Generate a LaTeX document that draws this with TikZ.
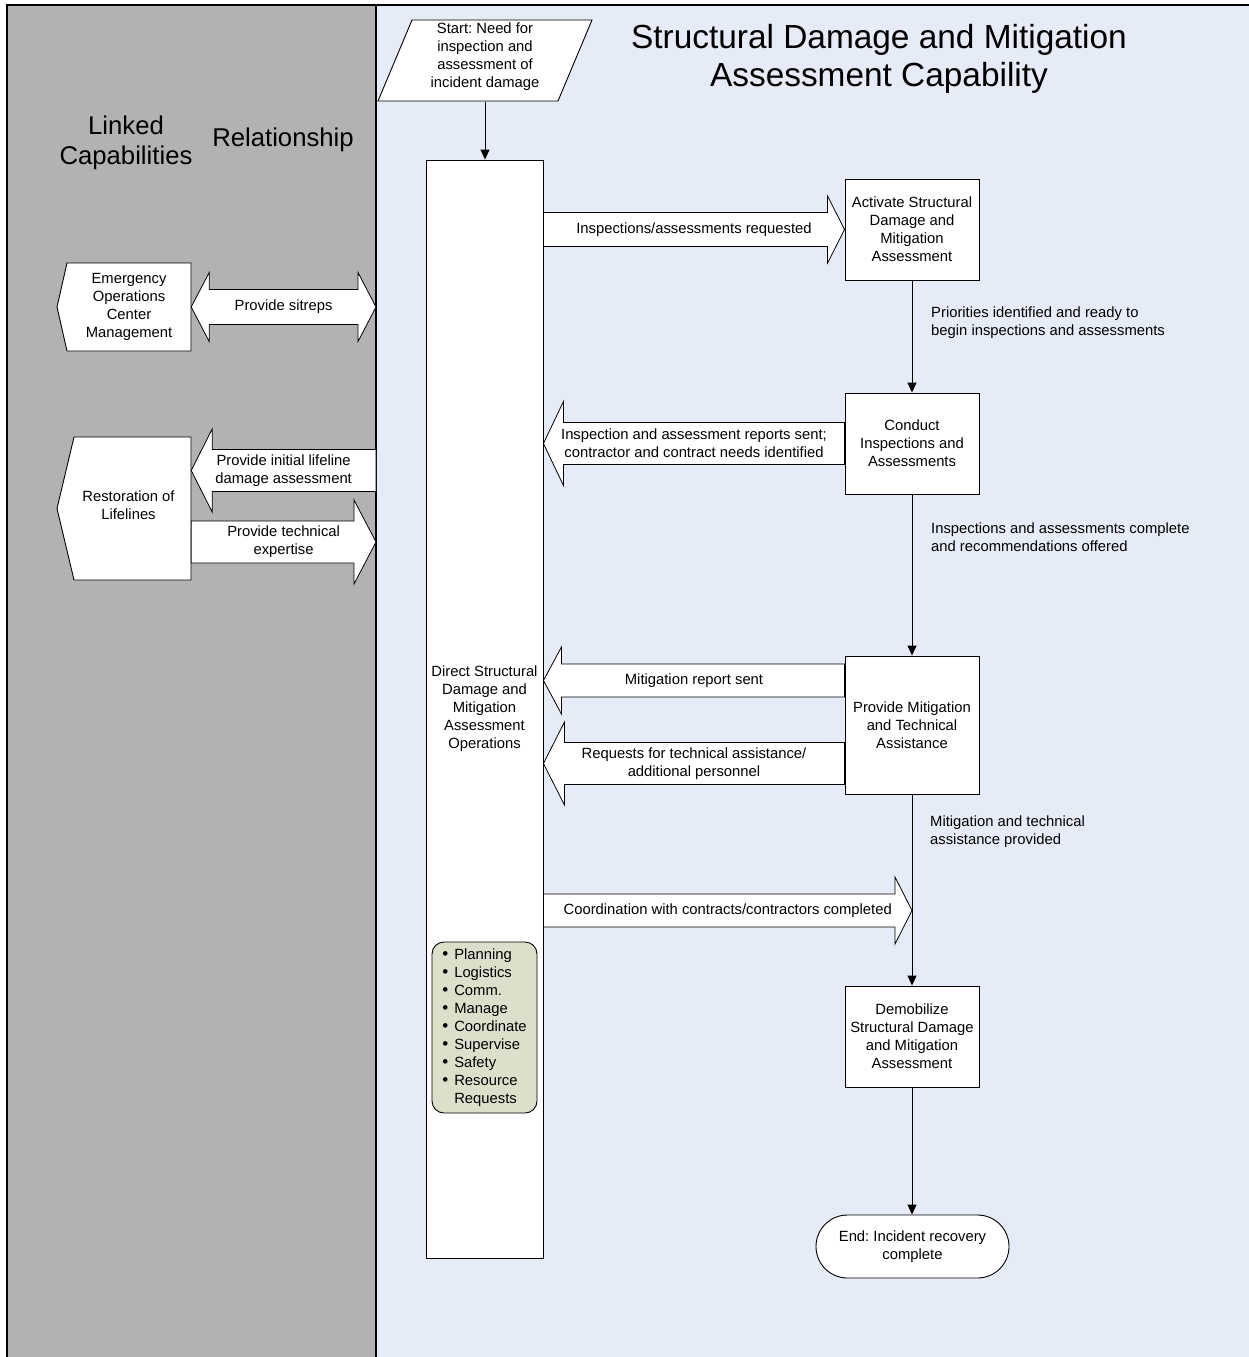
\documentclass[tikz,border=0pt]{standalone}
\usepackage{fontspec}
\setmainfont{Liberation Sans}
\frenchspacing
\usetikzlibrary{arrows.meta,calc}
\definecolor{lanegray}{HTML}{B2B2B2}
\definecolor{laneblue}{HTML}{E6ECF7}
\definecolor{bulletfill}{HTML}{DCE0CA}
\tikzset{
  base/.style={font=\fontsize{14.8}{18}\selectfont, align=center, inner sep=0pt},
  proc/.style={base, draw=black, fill=white, line width=0.9pt, minimum width=134pt, minimum height=101pt},
  shapeline/.style={draw=black, fill=white, line width=0.9pt, line join=miter},
  blk/.style={draw=black, fill=white, line width=0.8pt, line join=miter},
  conn/.style={line width=0.9pt, -{Triangle[length=10pt,width=9pt]}},
  note/.style={base, anchor=west, align=left},
  bigtitle/.style={inner sep=0pt, align=center, font=\fontsize{33.4}{38}\selectfont},
  lanetitle/.style={inner sep=0pt, align=center, font=\fontsize{25.7}{30}\selectfont},
}
\newcommand\bul{{\fontsize{17}{18}\selectfont\textbullet}}
% right-pointing block arrow: tail, tip, shaft half, head half, head length
\newcommand\BlkR[5]{\draw[blk] let \p1=(#1), \p2=(#2) in
  (\x1,{\y2+#3pt}) -- ({\x2-#5pt},{\y2+#3pt}) -- ({\x2-#5pt},{\y2+#4pt}) -- (\x2,\y2)
  -- ({\x2-#5pt},{\y2-#4pt}) -- ({\x2-#5pt},{\y2-#3pt}) -- (\x1,{\y2-#3pt}) -- cycle;}
% left-pointing block arrow: tail, tip, shaft half, head half, head length
\newcommand\BlkL[5]{\draw[blk] let \p1=(#1), \p2=(#2) in
  (\x1,{\y2+#3pt}) -- ({\x2+#5pt},{\y2+#3pt}) -- ({\x2+#5pt},{\y2+#4pt}) -- (\x2,\y2)
  -- ({\x2+#5pt},{\y2-#4pt}) -- ({\x2+#5pt},{\y2-#3pt}) -- (\x1,{\y2-#3pt}) -- cycle;}
% double block arrow: left tip, right tip, shaft half, head half, head length
\newcommand\BlkD[5]{\draw[blk] let \p1=(#1), \p2=(#2) in
  (\x1,\y1) -- ({\x1+#5pt},{\y1+#4pt}) -- ({\x1+#5pt},{\y1+#3pt}) -- ({\x2-#5pt},{\y1+#3pt})
  -- ({\x2-#5pt},{\y1+#4pt}) -- (\x2,\y1) -- ({\x2-#5pt},{\y1-#4pt}) -- ({\x2-#5pt},{\y1-#3pt})
  -- ({\x1+#5pt},{\y1-#3pt}) -- ({\x1+#5pt},{\y1-#4pt}) -- cycle;}
\begin{document}
\begin{tikzpicture}[x=1pt,y=-1pt]
\useasboundingbox (0,0) rectangle (1249,1357);
\fill[white] (0,0) rectangle (1249,1357);
\fill[lanegray] (7,5) rectangle (376,1357);
\fill[laneblue] (376,5) rectangle (1249,1357);
\draw[line width=1.2pt] (7,1357) -- (7,5) -- (1249,5);
\draw[line width=1.2pt] (376,5) -- (376,1357);

% lane titles
\node[bigtitle] (title) at (879,59) {Structural Damage and Mitigation\\Assessment Capability};
\node[lanetitle] (linked) at (126,143) {Linked\\Capabilities};
\node[lanetitle] (rel) at (283,140) {Relationship};

% shapes drawn directly
\draw[shapeline] (412,20) -- (592,20) -- (558,101) -- (378,101) -- cycle;
\draw[shapeline] (67,263) -- (191,263) -- (191,351) -- (67,351) -- (57,307) -- cycle;
\draw[shapeline] (74,437) -- (191,437) -- (191,580) -- (74,580) -- (57,508.5) -- cycle;

% nodes
\node[base, minimum width=180pt, minimum height=90pt] (start) at (485,56.5)
  {Start: Need for\\inspection and\\assessment of\\incident damage};
\node[base, minimum width=124pt, minimum height=88pt] (eoc) at (129,307)
  {Emergency\\Operations\\Center\\Management};
\node[base, minimum width=125pt, minimum height=143pt] (rest) at (128.5,505.5)
  {Restoration of\\Lifelines};

\node[proc, minimum width=117pt, minimum height=1098pt] (dir) at (484.5,709)
  {Direct Structural\\Damage and\\Mitigation\\Assessment\\Operations};
\node[base, draw=black, fill=bulletfill, line width=0.9pt, rounded corners=12pt,
  minimum width=105pt, minimum height=171pt] (bul) at (484.5,1027.5)
  {\begin{tabular}{@{}l@{\hspace{6pt}}l@{}}
  \bul & Planning\\
  \bul & Logistics\\
  \bul & Comm.\\
  \bul & Manage\\
  \bul & Coordinate\\
  \bul & Supervise\\
  \bul & Safety\\
  \bul & Resource\\
       & Requests
  \end{tabular}};

\node[proc] (act) at (912,229.5) {Activate Structural\\Damage and\\Mitigation\\Assessment};
\node[proc] (cond) at (912,443.5) {Conduct\\Inspections and\\Assessments};
\node[proc, minimum height=138pt] (prov) at (912,725) {Provide Mitigation\\and Technical\\Assistance};
\node[proc] (demob) at (912,1036.5) {Demobilize\\Structural Damage\\and Mitigation\\Assessment};
\node[base, draw=black, fill=white, line width=0.9pt, rounded corners=31.5pt,
  minimum width=193pt, minimum height=63pt] (end) at (912.5,1246.5)
  {End: Incident recovery\\complete};

% flow connectors
\draw[conn] (start.south) -- (start.south |- dir.north);
\draw[conn] (act.south) -- (cond.north);
\draw[conn] (cond.south) -- (prov.north);
\draw[conn] (prov.south) -- (demob.north);
\draw[conn] (demob.south) -- (end.north -| demob.south);

\node[note] (n1) at (931,322.5) {Priorities identified and ready to\\begin inspections and assessments};
\node[note] (n2) at (931,537.5) {Inspections and assessments complete\\and recommendations offered};
\node[note] (n3) at (930,831.5) {Mitigation and technical\\assistance provided};

% block arrows, capability lane
\coordinate (a1t) at (dir.east |- act.west);
\BlkR{a1t}{act.west}{17}{33.5}{17}
\node[base] (t1) at ($(a1t)!0.5!(act.west)$) {Inspections/assessments requested};

\coordinate (a2t) at (dir.east |- cond.west);
\BlkL{cond.west}{a2t}{21}{42}{20}
\node[base] (t2) at ($(a2t)!0.5!(cond.west)$) {Inspection and assessment reports sent;\\contractor and contract needs identified};

\coordinate (a3s) at ([yshift=44.5pt]prov.west);
\coordinate (a3t) at (dir.east |- a3s);
\BlkL{a3s}{a3t}{16.5}{33.5}{18}
\node[base] (t3) at ($(a3t)!0.5!(a3s)$) {Mitigation report sent};

\coordinate (a4s) at ([yshift=-38.5pt]prov.west);
\coordinate (a4t) at (dir.east |- a4s);
\BlkL{a4s}{a4t}{21}{41.5}{21}
\node[base] (t4) at ($(a4t)!0.5!(a4s)$) {Requests for technical assistance/\\additional personnel};

\coordinate (a5t) at (912,910.5);
\coordinate (a5s) at (dir.east |- a5t);
\BlkR{a5s}{a5t}{16.5}{33.5}{17}
\node[base] (t5) at ($(a5s)!0.5!(a5t)$) {Coordination with contracts/contractors completed};

% block arrows, linked capabilities lane
\coordinate (sS) at (376,307);
\BlkD{eoc.east}{sS}{17.5}{34.5}{18}
\node[base] (t6) at ($(eoc.east)!0.5!(sS)$) {Provide sitreps};

\coordinate (l1s) at (376,470.5);
\coordinate (l1t) at (rest.east |- l1s);
\BlkL{l1s}{l1t}{21}{41.5}{21}
\node[base] (t7) at ($(l1t)!0.5!(l1s)$) {Provide initial lifeline\\damage assessment};

\coordinate (l2t) at (376,542);
\coordinate (l2s) at (rest.east |- l2t);
\BlkR{l2s}{l2t}{21}{42}{22}
\node[base] (t8) at ($(l2s)!0.5!(l2t)$) {Provide technical\\expertise};
\end{tikzpicture}
\end{document}
